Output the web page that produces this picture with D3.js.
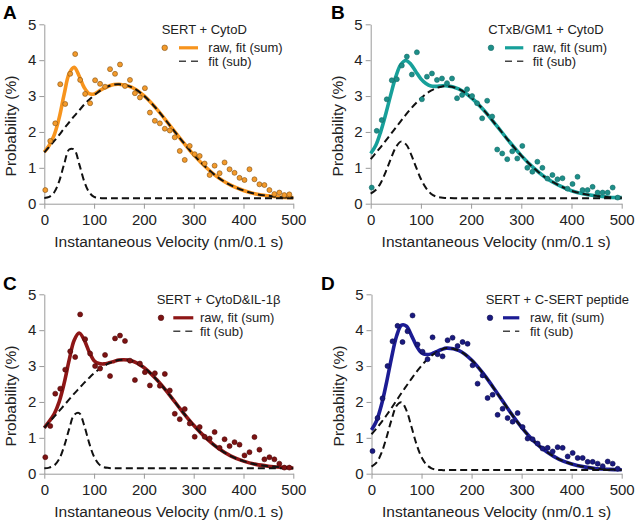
<!DOCTYPE html>
<html><head><meta charset="utf-8">
<script src="https://cdn.jsdelivr.net/npm/d3@7"></script>
<style>
html,body{margin:0;padding:0;background:#fff;}
svg{display:block;font-family:"Liberation Sans",Arial,sans-serif;}
</style></head>
<body><svg id="c" width="640" height="524"></svg>
<script>
// ---------- DATA ----------
const binV = [2,12,22,32,42,52,62,72,82,92,102,112,122,132,142,152,162,172,182,192,
  202,212,222,232,242,252,262,272,282,292,302,312,322,332,342,352,362,372,382,392,
  402,412,422,432,442,452,462,472,482,492];
const fitV = [0,10,20,30,40,50,60,70,80,90,100,110,120,130,140,150,175,200,225,250,275,300,325,350,375,400,425,450,475,500];
const xTicks = [0,100,200,300,400,500];
const yTicks = [0,1,2,3,4,5];

const rawA = [0.38,1.75,2.24,3.33,2.78,3.62,4.17,3.45,3.06,2.80,3.44,3.34,3.26,3.75,3.62,3.88,3.28,3.45,3.08,2.96,
  3.22,2.54,2.31,2.24,2.09,2.04,1.85,1.47,1.22,1.61,1.38,1.33,1.12,0.80,1.06,0.85,1.15,0.96,0.86,0.72,
  0.66,0.96,0.68,0.54,0.52,0.38,0.27,0.31,0.24,0.26];
const sumA = [1.44,1.63,1.92,2.40,3.06,3.63,3.80,3.56,3.24,3.07,3.06,3.14,3.22,3.28,3.32,3.33,3.25,3.01,2.65,2.22,1.78,1.36,1.01,0.72,0.51,0.37,0.27,0.22,0.18,0.17];
const bigA = [1.43,1.59,1.75,1.92,2.10,2.27,2.44,2.60,2.76,2.90,3.02,3.13,3.22,3.28,3.32,3.33,3.25,3.01,2.65,2.22,1.78,1.36,1.01,0.72,0.51,0.37,0.27,0.22,0.18,0.17];
const smallA = [0.16,0.19,0.32,0.63,1.11,1.51,1.51,1.11,0.63,0.32,0.19,0.16,0.15,0.15,0.15,0.15,0.15,0.15,0.15,0.15,0.15,0.15,0.15,0.15,0.15,0.15,0.15,0.15,0.15,0.15];

const rawB = [0.45,2.03,2.33,2.91,3.44,3.47,3.85,4.10,3.60,4.22,2.91,3.54,3.63,3.45,3.49,3.36,3.49,2.94,3.03,3.19,
  3.00,2.80,2.38,2.87,2.43,1.51,1.40,1.24,1.46,1.26,1.61,1.00,0.89,1.17,1.00,0.70,0.80,0.68,0.71,0.42,
  0.55,0.75,0.38,0.38,0.47,0.31,0.31,0.31,0.45,0.17];
const sumB = [1.40,1.62,2.01,2.50,3.04,3.54,3.88,3.99,3.89,3.68,3.48,3.35,3.28,3.27,3.28,3.29,3.20,2.96,2.61,2.19,1.75,1.34,0.99,0.71,0.51,0.36,0.27,0.22,0.18,0.17];
const bigB = [1.24,1.41,1.58,1.76,1.94,2.12,2.30,2.48,2.65,2.80,2.94,3.06,3.15,3.22,3.26,3.28,3.20,2.96,2.61,2.19,1.75,1.34,0.99,0.71,0.51,0.36,0.27,0.22,0.18,0.17];
const smallB = [0.28,0.38,0.58,0.89,1.25,1.57,1.73,1.66,1.39,1.03,0.69,0.44,0.28,0.20,0.17,0.16,0.15,0.15,0.15,0.15,0.15,0.15,0.15,0.15,0.15,0.15,0.15,0.15,0.15,0.15];

const rawC = [0.46,1.33,2.23,2.37,2.90,3.41,3.25,4.44,3.75,3.35,3.00,2.93,3.31,2.72,3.77,3.85,3.70,3.15,2.61,3.07,
  2.83,2.46,2.80,2.45,2.78,2.32,1.67,1.52,1.80,1.40,1.03,1.30,1.03,0.98,1.16,0.72,0.96,0.77,0.88,0.81,
  0.51,0.60,1.02,0.67,0.40,0.46,0.40,0.28,0.17,0.17];
const sumC = [1.28,1.46,1.67,2.01,2.53,3.17,3.72,3.92,3.73,3.40,3.15,3.07,3.06,3.09,3.13,3.17,3.15,2.96,2.63,2.22,1.77,1.35,0.99,0.70,0.49,0.35,0.26,0.21,0.18,0.16];
const bigC = [1.28,1.44,1.59,1.75,1.91,2.07,2.23,2.38,2.53,2.67,2.80,2.91,3.00,3.08,3.13,3.17,3.15,2.96,2.63,2.22,1.77,1.35,0.99,0.70,0.49,0.35,0.26,0.21,0.18,0.16];
const smallC = [0.15,0.17,0.23,0.41,0.77,1.25,1.64,1.69,1.35,0.86,0.47,0.26,0.18,0.16,0.15,0.15,0.15,0.15,0.15,0.15,0.15,0.15,0.15,0.15,0.15,0.15,0.15,0.15,0.15,0.15];

const rawD = [0.63,1.55,2.10,3.00,3.69,4.12,3.67,3.97,4.41,3.60,3.40,3.19,3.80,3.33,3.27,3.72,3.79,3.56,3.67,3.62,
  3.02,2.51,2.74,2.11,2.20,1.64,1.81,1.55,1.45,1.69,1.30,0.98,0.96,0.84,0.70,0.72,0.62,0.74,0.72,0.48,
  0.58,0.44,0.44,0.33,0.33,0.28,0.21,0.34,0.28,0.14];
const sumD = [1.22,1.47,1.92,2.54,3.23,3.83,4.14,4.11,3.85,3.56,3.37,3.32,3.34,3.40,3.46,3.50,3.43,3.17,2.76,2.27,1.76,1.29,0.90,0.61,0.40,0.27,0.19,0.14,0.12,0.11];
const bigD = [1.10,1.26,1.44,1.63,1.83,2.04,2.25,2.45,2.65,2.84,3.01,3.17,3.29,3.39,3.46,3.50,3.43,3.17,2.76,2.27,1.76,1.29,0.90,0.61,0.40,0.27,0.19,0.14,0.12,0.11];
const smallD = [0.20,0.31,0.58,1.01,1.50,1.89,1.99,1.76,1.30,0.82,0.46,0.25,0.15,0.11,0.10,0.10,0.10,0.10,0.10,0.10,0.10,0.10,0.10,0.10,0.10,0.10,0.10,0.10,0.10,0.10];

const panels = [
  {letter:"A", title:"SERT + CytoD", raw:rawA, sum:sumA, big:bigA, small:smallA,
   line:"#F7941D", dot:"#F39A2B", dotStroke:"#7d4f14",
   x0:44.3, x1:293.3, yT:24.3, yB:203.7, lx:[3,19], leg:{t:161.7, d:164.7, l1:179, l2:198, tx:208.3}},
  {letter:"B", title:"CTxB/GM1 + CytoD", raw:rawB, sum:sumB, big:bigB, small:smallB,
   line:"#17A09A", dot:"#1D8F89", dotStroke:"#146a66",
   x0:370.7, x1:621.7, yT:24.3, yB:203.7, lx:[331,19], leg:{t:488.3, d:491, l1:505, l2:523.3, tx:532.7}},
  {letter:"C", title:"SERT + CytoD&IL-1\u03B2", raw:rawC, sum:sumC, big:bigC, small:smallC,
   line:"#8E1616", dot:"#7D1212", dotStroke:"#4a0808",
   x0:44.3, x1:293.3, yT:294.3, yB:473.7, lx:[3,290], leg:{t:156.7, d:161, l1:173.3, l2:193.3, tx:200}},
  {letter:"D", title:"SERT + C-SERT peptide", raw:rawD, sum:sumD, big:bigD, small:smallD,
   line:"#1C1C94", dot:"#1A1A80", dotStroke:"#0c0c4a",
   x0:371.5, x1:621.7, yT:294.3, yB:473.7, lx:[321,290], leg:{t:485.7, d:490, l1:503, l2:519.3, tx:530}}
];

// ---------- DRAW ----------
const svg = d3.select("#c");
const axisCol = "#9a9a9a", txtCol = "#222";

panels.forEach(p => {
  const x = d3.scaleLinear().domain([0,500]).range([p.x0, p.x1]);
  const y = d3.scaleLinear().domain([0,5]).range([p.yB, p.yT]);
  const g = svg.append("g");

  // axes
  const ax = g.append("g").attr("transform", `translate(0,${p.yB})`)
    .call(d3.axisBottom(x).tickValues(xTicks).tickFormat(d3.format("d")).tickSize(5).tickSizeOuter(0).tickPadding(6));
  const ay = g.append("g").attr("transform", `translate(${p.x0},0)`)
    .call(d3.axisLeft(y).tickValues(yTicks).tickFormat(d3.format("d")).tickSize(5).tickSizeOuter(0).tickPadding(3));
  [ax, ay].forEach(a => {
    a.select(".domain").attr("stroke", axisCol).attr("stroke-width", 1);
    a.selectAll(".tick line").attr("stroke", axisCol);
    a.selectAll(".tick text").attr("fill", txtCol).style("font-size", "15px")
      .style("font-family", '"Liberation Sans",Arial,sans-serif');
  });

  // axis titles
  g.append("text").attr("x", (p.x0 + p.x1) / 2).attr("y", p.yB + 43)
    .attr("text-anchor", "middle").attr("fill", txtCol).style("font-size", "15.5px")
    .text("Instantaneous Velocity (nm/0.1 s)");
  g.append("text")
    .attr("transform", `translate(${p.x0 - 28},${(p.yT + p.yB) / 2 + 12}) rotate(-90)`)
    .attr("text-anchor", "middle").attr("fill", txtCol).style("font-size", "15.5px")
    .text("Probability (%)");

  // panel letter
  g.append("text").attr("x", p.lx[0]).attr("y", p.lx[1])
    .style("font-size", "19px").style("font-weight", "bold").attr("fill", "#000").text(p.letter);

  const line = d3.line().x((d, i) => x(fitV[i])).y(d => y(d)).curve(d3.curveCatmullRom.alpha(0.5));

  // fit sum
  g.append("path").datum(p.sum).attr("d", line).attr("fill", "none")
    .attr("stroke", p.line).attr("stroke-width", 3.6).attr("stroke-linejoin", "round");
  // sub fits
  [p.big, p.small].forEach(s => {
    g.append("path").datum(s).attr("d", line).attr("fill", "none")
      .attr("stroke", "#111").attr("stroke-width", 2).attr("stroke-dasharray", "7,4");
  });
  // raw points
  g.selectAll("circle.raw").data(p.raw).enter().append("circle").attr("class", "raw")
    .attr("cx", (d, i) => x(binV[i])).attr("cy", d => y(d)).attr("r", 2.5)
    .attr("fill", p.dot).attr("stroke", p.dotStroke).attr("stroke-width", 0.6);

  // legend
  const L = p.leg, r1 = p.yT + 23.5, r2 = p.yT + 37;
  g.append("text").attr("x", L.t).attr("y", p.yT + 9.5).attr("fill", txtCol)
    .style("font-size", "13px").text(p.title);
  g.append("circle").attr("cx", L.d).attr("cy", r1).attr("r", 2.8)
    .attr("fill", p.dot).attr("stroke", p.dotStroke).attr("stroke-width", 0.6);
  g.append("line").attr("x1", L.l1).attr("x2", L.l2).attr("y1", r1).attr("y2", r1)
    .attr("stroke", p.line).attr("stroke-width", 3.2);
  g.append("text").attr("x", L.tx).attr("y", r1 + 4.5).attr("fill", txtCol)
    .style("font-size", "13px").text("raw, fit (sum)");
  g.append("line").attr("x1", L.l1).attr("x2", L.l2).attr("y1", r2).attr("y2", r2)
    .attr("stroke", "#444").attr("stroke-width", 1.5).attr("stroke-dasharray", "7,5");
  g.append("text").attr("x", L.tx).attr("y", r2 + 4.5).attr("fill", txtCol)
    .style("font-size", "13px").text("fit (sub)");
});
</script></body></html>
